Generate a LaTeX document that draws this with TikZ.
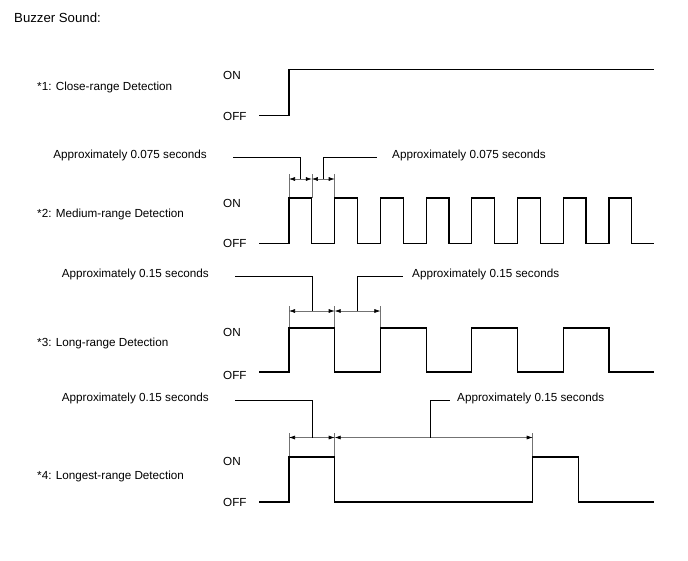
\documentclass[tikz,border=0pt]{standalone}
\usepackage{fontspec}
\setmainfont{Liberation Sans}
\usetikzlibrary{arrows.meta,calc}
\definecolor{cGray}{gray}{0.45}
\tikzset{>={Latex[length=6pt,width=4pt,color=black]}}

\begin{document}
\begin{tikzpicture}[x=1pt, y=-1pt, font=\fontsize{11.7}{14}\selectfont,
	sig/.style={line width=1.2pt, line join=miter},
	dimline/.style={draw=cGray, line width=0.6pt},
	leader/.style={line width=0.7pt},
	lbl/.style={inner sep=0pt}]
		\useasboundingbox (0,0) rectangle (688,560);
		\node [lbl, anchor=west, font=\fontsize{13.2}{15}\selectfont] (title) at (14,18) {Buzzer Sound:};
		
		%close range
		\node [lbl, anchor=west] (d1) at (37,87) {*1: Close-range Detection};
		\node [lbl, anchor=west] (on1) at (223,75) {ON};
		\node [lbl, anchor=west] (off1) at (223,116) {OFF};
		\draw [sig] (259,115.5) -- (289,115.5) -- (289,69.5) -- (654,69.5);
		
		%medium range
		\node [lbl, anchor=west] (d2) at (37,214) {*2: Medium-range Detection};
		\node [lbl, anchor=west] (on2) at (223,203) {ON};
		\node [lbl, anchor=west] (off2) at (223,243) {OFF};
		\foreach \x in {289,311.85,334.7}
		{
			\draw [dimline] (\x,174) -- (\x,198);
		}
		\coordinate (e2a) at (289,179);
		\coordinate (e2b) at (311.85,179);
		\coordinate (e2c) at (334.7,179);
		\draw [dimline, <->] (e2a) -- (e2b);
		\draw [dimline, <->] (e2b) -- (e2c);
		\draw [sig] (259,243.5) \foreach \i in {0,...,7}
		{
			-- ({289+45.7*\i},243.5) -- ({289+45.7*\i},198) -- ({311.85+45.7*\i},198) -- ({311.85+45.7*\i},243.5)
		} -- (654,243.5);
		\node [lbl, anchor=east] (a2l) at (207,155) {Approximately 0.075 seconds};
		\node [lbl, anchor=west] (a2r) at (392,155) {Approximately 0.075 seconds};
		\draw [leader] ([xshift=26pt, yshift=-2pt]a2l.east) -| ($(e2a)!0.5!(e2b)$);
		\draw [leader] ($(e2b)!0.5!(e2c)$) |- ([xshift=-15pt, yshift=-2pt]a2r.west);
		
		%long range
		\node [lbl, anchor=west] (d3) at (37,343) {*3: Long-range Detection};
		\node [lbl, anchor=west] (on3) at (223,332) {ON};
		\node [lbl, anchor=west] (off3) at (223,375) {OFF};
		\foreach \x in {289,334.7,380.4}
		{
			\draw [dimline] (\x,306) -- (\x,328);
		}
		\coordinate (e3a) at (289,311);
		\coordinate (e3b) at (334.7,311);
		\coordinate (e3c) at (380.4,311);
		\draw [dimline, <->] (e3a) -- (e3b);
		\draw [dimline, <->] (e3b) -- (e3c);
		\draw [sig] (259,372) \foreach \i in {0,...,3}
		{
			-- ({289+91.4*\i},372) -- ({289+91.4*\i},328) -- ({334.7+91.4*\i},328) -- ({334.7+91.4*\i},372)
		} -- (654,372);
		\node [lbl, anchor=east] (a3l) at (209,274) {Approximately 0.15 seconds};
		\node [lbl, anchor=west] (a3r) at (412,274) {Approximately 0.15 seconds};
		\draw [leader] ([xshift=26pt, yshift=-2pt]a3l.east) -| ($(e3a)!0.5!(e3b)$);
		\draw [leader] ($(e3b)!0.5!(e3c)$) |- ([xshift=-9pt, yshift=-2pt]a3r.west);
		
		%longest range
		\node [lbl, anchor=west] (d4) at (37,476) {*4: Longest-range Detection};
		\node [lbl, anchor=west] (on4) at (223,461) {ON};
		\node [lbl, anchor=west] (off4) at (223,502) {OFF};
		\foreach \x in {289,334.7,532.7}
		{
			\draw [dimline] (\x,433) -- (\x,457);
		}
		\coordinate (e4a) at (289,437.5);
		\coordinate (e4b) at (334.7,437.5);
		\coordinate (e4c) at (532.7,437.5);
		\draw [dimline, <->] (e4a) -- (e4b);
		\draw [dimline, <->] (e4b) -- (e4c);
		\draw [sig] (259,502) -- (289,502) -- (289,457) -- (334.7,457) -- (334.7,502) -- (532.7,502) -- (532.7,457) -- (578.3,457) -- (578.3,502) -- (654,502);
		\node [lbl, anchor=east] (a4l) at (209,398) {Approximately 0.15 seconds};
		\node [lbl, anchor=west] (a4r) at (457,398) {Approximately 0.15 seconds};
		\draw [leader] ([xshift=26pt, yshift=-2pt]a4l.east) -| ($(e4a)!0.5!(e4b)$);
		\coordinate (m4) at (430,437.5);
		\draw [leader] (m4) |- ([xshift=-7pt, yshift=-2pt]a4r.west);
\end{tikzpicture}
\end{document}
